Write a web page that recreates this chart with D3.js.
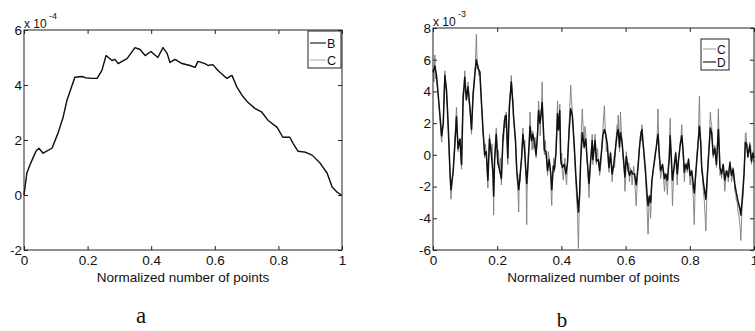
<!DOCTYPE html>
<html>
<head>
<meta charset="utf-8">
<script src="https://cdn.jsdelivr.net/npm/d3@7"></script>
<style>
  html, body { margin: 0; padding: 0; background: #fff; }
  svg { display: block; }
  text { font-family: "Liberation Sans", Arial, sans-serif; fill: #111; }
</style>
</head>
<body>
<svg id="chart" width="755" height="331"></svg>
<script>
// ---------- Panel a data (values ×1e-4) ----------
const posA = [0, 0.009, 0.019, 0.028, 0.038, 0.047, 0.060, 0.088, 0.107, 0.123, 0.135, 0.151, 0.160, 0.182, 0.195, 0.214, 0.230, 0.245, 0.258, 0.277, 0.286, 0.296, 0.324, 0.349, 0.365, 0.381, 0.399, 0.421, 0.437, 0.450, 0.459, 0.475, 0.497, 0.522, 0.538, 0.547, 0.569, 0.579, 0.594, 0.610, 0.638, 0.654, 0.670, 0.686, 0.704, 0.726, 0.748, 0.767, 0.796, 0.814, 0.836, 0.846, 0.862, 0.884, 0.906, 0.931, 0.953, 0.969, 0.984, 1.0];
const seriesB = [0, 0.8, 1.1, 1.34, 1.6, 1.7, 1.52, 1.7, 2.25, 2.83, 3.44, 3.98, 4.28, 4.31, 4.26, 4.24, 4.24, 4.53, 5.07, 4.89, 4.93, 4.78, 4.96, 5.36, 5.29, 5.07, 5.22, 5.0, 5.36, 5.15, 4.82, 4.93, 4.78, 4.71, 4.64, 4.86, 4.78, 4.71, 4.74, 4.53, 4.24, 4.35, 3.91, 3.62, 3.37, 3.15, 3.01, 2.72, 2.46, 2.10, 2.10, 1.88, 1.59, 1.56, 1.45, 1.16, 0.8, 0.29, 0.11, -0.02];
const seriesCa = [0, 0.8, 1.1, 1.34, 1.6, 1.7, 1.52, 1.7, 2.25, 2.83, 3.44, 3.98, 4.28, 4.31, 4.26, 4.24, 4.24, 4.53, 5.07, 4.89, 4.93, 4.78, 4.96, 5.36, 5.29, 5.07, 5.22, 5.0, 5.36, 5.15, 4.82, 4.93, 4.78, 4.71, 4.64, 4.86, 4.78, 4.71, 4.74, 4.53, 4.24, 4.35, 3.91, 3.62, 3.37, 3.15, 3.01, 2.72, 2.46, 2.10, 2.10, 1.88, 1.59, 1.56, 1.45, 1.16, 0.8, 0.29, 0.11, -0.02];

// ---------- Panel b data (values ×1e-3) ----------
// series D (black)
const posD = [0.000,0.006,0.011,0.017,0.022,0.027,0.032,0.037,0.042,0.047,0.053,0.056,0.063,0.068,0.073,0.078,0.084,0.089,0.094,0.099,0.104,0.109,0.115,0.120,0.125,0.130,0.135,0.140,0.146,0.151,0.156,0.161,0.166,0.171,0.176,0.182,0.187,0.189,0.192,0.197,0.202,0.207,0.213,0.218,0.223,0.228,0.233,0.238,0.244,0.249,0.251,0.257,0.261,0.267,0.271,0.276,0.280,0.285,0.288,0.292,0.295,0.300,0.302,0.307,0.311,0.316,0.321,0.326,0.329,0.333,0.336,0.340,0.344,0.347,0.352,0.357,0.362,0.367,0.370,0.375,0.378,0.383,0.388,0.391,0.395,0.398,0.403,0.409,0.414,0.419,0.424,0.429,0.434,0.440,0.445,0.450,0.453,0.457,0.460,0.465,0.471,0.476,0.481,0.486,0.491,0.496,0.498,0.505,0.509,0.515,0.519,0.525,0.529,0.534,0.538,0.543,0.548,0.553,0.558,0.563,0.569,0.574,0.577,0.581,0.584,0.589,0.594,0.598,0.602,0.608,0.612,0.618,0.622,0.628,0.633,0.639,0.643,0.647,0.651,0.656,0.662,0.667,0.670,0.674,0.678,0.682,0.687,0.693,0.697,0.701,0.705,0.709,0.715,0.721,0.725,0.730,0.736,0.739,0.742,0.746,0.752,0.756,0.761,0.765,0.770,0.775,0.779,0.783,0.787,0.792,0.796,0.801,0.806,0.811,0.814,0.818,0.823,0.827,0.830,0.834,0.837,0.842,0.847,0.850,0.855,0.860,0.864,0.868,0.873,0.878,0.883,0.889,0.894,0.899,0.904,0.909,0.914,0.920,0.925,0.930,0.935,0.940,0.945,0.950,0.956,0.959,0.963,0.969,0.973,0.977,0.981,0.987,0.992,0.997,1.000];
const seriesD = [5.2,5.6,5.0,3.6,2.4,1.2,2.0,5.0,4.1,2.0,-1.1,-2.2,-1.0,0.6,2.4,0.4,1.0,-0.6,3.6,4.9,3.5,4.3,3.0,1.6,3.8,5.0,6.0,5.5,5.2,3.3,1.5,0.0,0.2,-1.6,1.0,0.0,-1.2,-2.6,-0.3,1.3,-0.5,-0.9,-1.5,1.0,2.2,2.5,-0.2,3.0,4.6,3.2,2.4,0.9,-1.0,-2.2,-1.4,-0.2,1.3,0.4,-0.6,-1.8,-0.9,0.8,1.8,0.9,1.3,0.8,0.0,1.4,2.8,2.0,2.4,3.3,1.6,0.3,0.2,-1.0,-0.3,-1.2,-2.2,-0.7,-0.9,0.1,2.6,1.6,2.8,-0.3,-0.8,-0.6,-1.2,-0.5,1.5,2.9,2.5,0.6,-1.3,-2.8,-3.6,-2.4,-0.4,1.4,0.5,1.0,-0.5,-1.8,-0.4,0.9,-0.3,0.9,-0.4,-0.3,-1.0,0.2,1.2,1.6,1.3,0.7,-0.8,0.1,-1.2,-0.6,0.5,1.4,1.6,0.5,1.4,0.8,-0.4,-1.4,-0.1,-0.9,-1.3,-1.0,-1.2,-1.2,-1.9,-0.7,0.4,1.2,1.6,0.4,-1.0,-2.5,-3.2,-2.6,-3.0,-1.6,-0.8,0.1,0.7,1.3,0.0,-1.0,-0.6,-1.5,-1.2,-1.6,-0.2,1.2,0.0,-1.6,-0.6,0.1,-1.2,-0.3,0.6,1.2,0.3,-1.1,-0.6,-0.9,-0.3,-1.3,-1.0,-1.9,-2.4,-1.3,0.0,1.0,1.8,0.8,-0.7,-1.7,-2.4,-2.8,-1.2,0.4,1.7,1.4,0.0,0.4,-0.6,1.6,-0.8,-1.2,-0.6,-1.6,-1.0,-1.4,-0.5,-1.3,-0.9,-1.8,-2.4,-2.9,-3.4,-3.8,-2.9,-1.2,0.8,0.7,-0.1,0.6,-0.4,0.1,-0.2];
// series C (grey)
const posC = [0.000,0.003,0.006,0.008,0.011,0.014,0.017,0.019,0.022,0.024,0.027,0.030,0.032,0.034,0.037,0.040,0.042,0.045,0.047,0.050,0.053,0.054,0.056,0.060,0.063,0.065,0.068,0.070,0.073,0.076,0.078,0.081,0.084,0.086,0.089,0.091,0.094,0.096,0.099,0.101,0.104,0.107,0.109,0.112,0.115,0.117,0.120,0.122,0.125,0.128,0.130,0.132,0.135,0.138,0.140,0.143,0.146,0.148,0.151,0.153,0.156,0.158,0.161,0.163,0.166,0.168,0.171,0.173,0.176,0.179,0.182,0.184,0.187,0.188,0.189,0.190,0.192,0.194,0.197,0.199,0.202,0.204,0.207,0.210,0.213,0.215,0.218,0.220,0.223,0.225,0.228,0.230,0.233,0.235,0.238,0.241,0.244,0.246,0.249,0.250,0.251,0.254,0.257,0.259,0.261,0.264,0.267,0.269,0.271,0.273,0.276,0.278,0.280,0.282,0.285,0.286,0.288,0.290,0.292,0.293,0.295,0.297,0.300,0.301,0.302,0.305,0.307,0.309,0.311,0.313,0.316,0.318,0.321,0.323,0.326,0.327,0.329,0.331,0.333,0.334,0.336,0.338,0.340,0.342,0.344,0.345,0.347,0.350,0.352,0.354,0.357,0.359,0.362,0.364,0.367,0.368,0.370,0.372,0.375,0.376,0.378,0.381,0.383,0.385,0.388,0.389,0.391,0.393,0.395,0.396,0.398,0.401,0.403,0.406,0.409,0.411,0.414,0.416,0.419,0.421,0.424,0.426,0.429,0.431,0.434,0.437,0.440,0.442,0.445,0.447,0.450,0.451,0.453,0.455,0.457,0.458,0.460,0.462,0.465,0.468,0.471,0.473,0.476,0.478,0.481,0.483,0.486,0.488,0.491,0.493,0.496,0.497,0.498,0.501,0.505,0.507,0.509,0.512,0.515,0.517,0.519,0.522,0.525,0.527,0.529,0.531,0.534,0.536,0.538,0.540,0.543,0.545,0.548,0.550,0.553,0.555,0.558,0.560,0.563,0.566,0.569,0.571,0.574,0.575,0.577,0.579,0.581,0.582,0.584,0.586,0.589,0.591,0.594,0.596,0.598,0.600,0.602,0.605,0.608,0.610,0.612,0.615,0.618,0.620,0.622,0.625,0.628,0.630,0.633,0.636,0.639,0.641,0.643,0.645,0.647,0.649,0.651,0.653,0.656,0.659,0.662,0.664,0.667,0.668,0.670,0.672,0.674,0.676,0.678,0.680,0.682,0.684,0.687,0.690,0.693,0.695,0.697,0.699,0.701,0.703,0.705,0.707,0.709,0.712,0.715,0.718,0.721,0.723,0.725,0.727,0.730,0.733,0.736,0.737,0.739,0.740,0.742,0.744,0.746,0.749,0.752,0.754,0.756,0.758,0.761,0.763,0.765,0.767,0.770,0.772,0.775,0.777,0.779,0.781,0.783,0.785,0.787,0.790,0.792,0.794,0.796,0.798,0.801,0.803,0.806,0.808,0.811,0.812,0.814,0.816,0.818,0.820,0.823,0.825,0.827,0.828,0.830,0.832,0.834,0.835,0.837,0.840,0.842,0.845,0.847,0.848,0.850,0.853,0.855,0.857,0.860,0.862,0.864,0.866,0.868,0.871,0.873,0.876,0.878,0.881,0.883,0.886,0.889,0.892,0.894,0.897,0.899,0.901,0.904,0.906,0.909,0.911,0.914,0.917,0.920,0.922,0.925,0.928,0.930,0.933,0.935,0.938,0.940,0.943,0.945,0.948,0.950,0.953,0.956,0.957,0.959,0.961,0.963,0.966,0.969,0.971,0.973,0.975,0.977,0.979,0.981,0.984,0.987,0.990,0.992,0.994,0.997,0.999,1.000];
const seriesCb = [5.4,4.6,6.3,4.8,5.0,4.2,3.5,3.0,2.3,1.4,0.8,1.6,2.1,3.6,5.3,4.4,4.0,3.0,1.9,0.4,-1.3,-1.8,-2.8,-1.6,-1.0,-0.2,0.8,1.6,3.0,1.8,0.2,0.9,1.0,-0.2,-0.9,1.6,4.0,3.9,5.3,4.2,3.4,3.9,4.6,3.4,2.9,2.4,1.3,2.6,4.0,4.4,5.3,5.6,7.6,5.4,5.7,5.0,5.3,4.4,3.2,2.5,1.3,0.9,-0.2,0.7,0.0,-0.8,-2.1,-0.4,1.3,0.6,0.0,0.7,-1.7,-2.4,-3.8,-1.8,-0.2,0.6,1.7,0.8,-0.6,0.3,-1.1,-0.2,-1.9,-0.6,1.3,0.9,2.5,1.7,2.7,1.3,-0.6,1.2,3.4,4.0,5.0,4.1,3.4,2.6,2.3,1.6,0.8,-0.2,-1.3,-2.0,-3.6,-1.2,-1.7,-0.8,-0.2,0.5,1.7,0.8,0.4,0.9,-0.8,-1.6,-4.4,-2.4,-1.3,0.0,1.1,1.4,2.7,1.6,0.8,0.3,1.5,0.4,0.8,1.1,-0.2,0.4,1.7,2.3,3.4,2.6,1.9,1.2,2.7,3.0,4.6,2.6,1.3,0.8,0.0,0.9,0.2,-0.4,-1.3,0.2,-0.2,-0.6,-1.5,-2.4,-3.2,-1.4,-0.6,-0.2,-1.1,-0.6,0.2,1.6,3.4,2.4,1.5,2.0,3.2,1.4,-0.6,0.1,-1.1,-1.6,-0.6,-0.2,-1.5,-1.9,-0.6,0.4,1.9,2.9,4.4,3.6,2.7,1.6,0.4,-0.4,-1.7,-2.6,-3.6,-4.5,-5.9,-4.0,-2.7,-1.6,-0.2,1.4,2.9,1.7,0.4,1.8,1.3,0.2,-0.6,-1.4,-2.7,-1.6,-0.2,0.1,1.3,0.6,-0.6,0.2,1.3,0.4,-0.6,0.4,-0.4,-0.4,-1.3,-0.9,0.2,0.8,1.5,2.2,3.1,1.9,1.3,0.2,0.6,-0.1,-1.1,-0.7,0.2,-0.6,-1.7,-1.2,-0.6,-0.8,0.6,1.2,1.9,1.3,2.5,1.6,0.2,1.0,2.7,1.8,0.8,0.1,-0.6,-1.2,-2.3,-1.6,0.2,-0.4,-1.1,-0.5,-1.7,-0.8,-1.1,-1.9,-1.5,-0.7,-1.3,-2.2,-3.2,-1.9,-0.6,-0.2,0.6,0.9,1.5,0.9,1.9,1.0,0.2,-0.6,-1.3,-2.2,-3.4,-4.1,-5.0,-3.6,-2.7,-3.2,-4.0,-2.6,-1.7,-1.3,-0.8,-0.5,0.2,0.3,0.8,1.6,2.9,1.0,-0.2,-0.5,-1.5,-1.1,-0.6,-1.4,-2.3,-1.8,-1.3,-1.5,-2.5,-1.4,0.0,1.1,2.3,0.8,-0.2,-1.6,-3.2,-1.5,-0.6,-0.4,0.2,-0.9,-1.9,-0.8,-0.2,0.0,0.8,1.0,1.9,1.1,0.2,-0.6,-1.7,-1.0,-0.6,-0.5,-1.1,-0.6,-0.2,-0.9,-1.9,-1.5,-1.1,-1.8,-2.7,-3.4,-4.4,-2.6,-1.5,-0.8,0.2,0.6,1.3,2.4,3.7,1.8,0.8,0.2,-1.1,-1.4,-2.3,-2.8,-3.6,-4.0,-4.8,-2.6,-1.1,-0.4,0.6,1.5,2.7,2.1,1.9,0.6,-0.2,0.2,0.6,-0.1,-0.8,0.6,2.9,0.6,-1.3,-1.0,-1.5,-1.0,-0.6,-1.2,-2.3,-1.8,-1.1,-1.0,-1.7,-1.1,-0.4,-0.9,-1.7,-1.4,-0.8,-1.4,-2.3,-2.4,-2.9,-3.0,-3.6,-3.8,-4.4,-4.6,-5.4,-4.4,-3.2,-2.6,-1.1,-0.2,1.3,1.4,0.8,0.3,-0.2,0.3,0.8,0.5,-0.6,-0.3,0.2,-0.5,-0.3];

// ---------- Axis ticks ----------
const xTicks = [0, 0.2, 0.4, 0.6, 0.8, 1];
const xTickLabels = ["0", "0.2", "0.4", "0.6", "0.8", "1"];
const yTicksA = [-2, 0, 2, 4, 6];
const yTickLabelsA = ["-2", "0", "2", "4", "6"];
const yTicksB = [-6, -4, -2, 0, 2, 4, 6, 8];
const yTickLabelsB = ["-6", "-4", "-2", "0", "2", "4", "6", "8"];
const xTitle = "Normalized number of points";

if (posC.length !== seriesCb.length) throw new Error("C length " + posC.length + " vs " + seriesCb.length);
if (posD.length !== seriesD.length) throw new Error("D length " + posD.length + " vs " + seriesD.length);

const svg = d3.select("#chart");

function panel(cfg) {
  const x = d3.scaleLinear().domain([0, 1]).range([cfg.left, cfg.right]);
  const y = d3.scaleLinear().domain(cfg.yDomain).range([cfg.bottom, cfg.top]);
  const g = svg.append("g");

  const styleAxis = sel => {
    sel.select(".domain").remove();
    sel.selectAll(".tick line").attr("stroke", "#222");
    sel.selectAll("text").style("font-family", "'Liberation Sans', Arial, sans-serif")
      .style("font-size", "13.5px").attr("fill", "#111");
  };

  // series
  const line = d3.line().x(d => x(d[0])).y(d => y(d[1]));
  cfg.series.forEach(s => {
    g.append("path").datum(s.pos.map((p, i) => [p, s.values[i]]))
      .attr("fill", "none").attr("stroke", s.color).attr("stroke-width", s.width)
      .attr("stroke-linejoin", "round").attr("d", line);
  });

  // frame
  g.append("rect").attr("x", cfg.left).attr("y", cfg.top)
    .attr("width", cfg.right - cfg.left).attr("height", cfg.bottom - cfg.top)
    .attr("fill", "none").attr("stroke", "#222").attr("stroke-width", 1);

  g.append("g").attr("transform", `translate(0,${cfg.bottom})`)
    .call(d3.axisBottom(x).tickValues(xTicks).tickFormat((d, i) => xTickLabels[i])
      .tickSizeInner(-4).tickSizeOuter(0).tickPadding(5))
    .call(styleAxis);
  g.append("g").attr("transform", `translate(0,${cfg.top})`)
    .call(d3.axisTop(x).tickValues(xTicks).tickFormat("").tickSizeInner(-4).tickSizeOuter(0))
    .call(styleAxis);
  g.append("g").attr("transform", `translate(${cfg.left},0)`)
    .call(d3.axisLeft(y).tickValues(cfg.yTicks).tickFormat((d, i) => cfg.yLabels[i])
      .tickSizeInner(-4).tickSizeOuter(0).tickPadding(2))
    .call(styleAxis);
  g.append("g").attr("transform", `translate(${cfg.right},0)`)
    .call(d3.axisRight(y).tickValues(cfg.yTicks).tickFormat("").tickSizeInner(-4).tickSizeOuter(0))
    .call(styleAxis);

  // exponent
  g.append("text").attr("x", cfg.left).attr("y", cfg.top - 2)
    .style("font-size", "12px").text("x 10");
  g.append("text").attr("x", cfg.left + 25).attr("y", cfg.top - 11)
    .style("font-size", "9px").text(cfg.exp);

  // x title
  g.append("text").attr("x", (cfg.left + cfg.right) / 2).attr("y", 282)
    .attr("text-anchor", "middle").style("font-size", "13.5px").text(xTitle);

  // legend
  const L = cfg.legend;
  g.append("rect").attr("x", L.x).attr("y", L.y).attr("width", L.w).attr("height", L.h)
    .attr("fill", "#fff").attr("stroke", "#222").attr("stroke-width", 1);
  L.items.forEach((it, i) => {
    const yy = L.y + L.first + i * L.step;
    g.append("line").attr("x1", L.x + 2).attr("x2", L.x + 2 + L.lineLen)
      .attr("y1", yy).attr("y2", yy).attr("stroke", it.color).attr("stroke-width", it.width);
    g.append("text").attr("x", L.x + 3 + L.lineLen).attr("y", yy + 4.5)
      .style("font-size", L.font + "px").text(it.name);
  });

  // panel label
  g.append("text").attr("x", cfg.tag.x).attr("y", cfg.tag.y).attr("text-anchor", "middle")
    .style("font-family", "'Liberation Serif', 'Times New Roman', serif")
    .style("font-size", cfg.tag.size + "px").text(cfg.tag.text);
}

panel({
  left: 24, right: 342, top: 30, bottom: 250,
  yDomain: [-2, 6], yTicks: yTicksA, yLabels: yTickLabelsA, exp: "-4",
  series: [
    { pos: posA, values: seriesCa, color: "#aaa", width: 0.8 },
    { pos: posA, values: seriesB, color: "#111", width: 1.4 }
  ],
  legend: { x: 308, y: 31, w: 33, h: 37, first: 12, step: 17, lineLen: 16, font: 12.5,
    items: [{ name: "B", color: "#222", width: 1.2 }, { name: "C", color: "#aaa", width: 1 }] },
  tag: { x: 141, y: 323, size: 23, text: "a" }
});

panel({
  left: 433, right: 754, top: 28, bottom: 250,
  yDomain: [-6, 8], yTicks: yTicksB, yLabels: yTickLabelsB, exp: "-3",
  series: [
    { pos: posC, values: seriesCb, color: "#7c7c7c", width: 0.9 },
    { pos: posD, values: seriesD, color: "#111", width: 1.5 }
  ],
  legend: { x: 701, y: 39, w: 28, h: 31, first: 10, step: 13, lineLen: 13, font: 12,
    items: [{ name: "C", color: "#999", width: 1 }, { name: "D", color: "#222", width: 1.2 }] },
  tag: { x: 562, y: 327, size: 21, text: "b" }
});
</script>
</body>
</html>
